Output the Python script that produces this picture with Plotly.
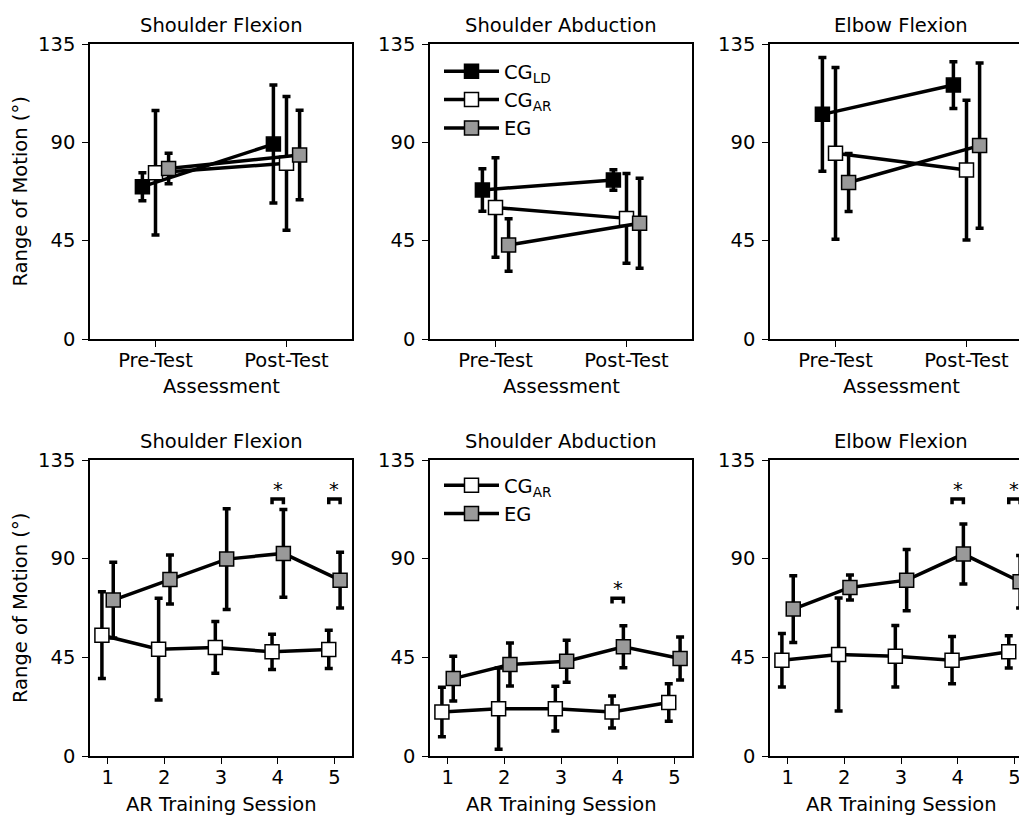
import plotly.graph_objects as go

# ---------------- data ----------------
assess_labels = ["Pre-Test", "Post-Test"]
assess_pos = [0, 1]

# Top row (Pre-Test, Post-Test): mean and SD
sf_ld_mean = [69.7, 89.2]
sf_ld_sd = [6.4, 27.0]
sf_ar_mean = [76.1, 80.4]
sf_ar_sd = [28.5, 30.6]
sf_eg_mean = [78.0, 84.2]
sf_eg_sd = [7.0, 20.5]

sa_ld_mean = [68.2, 72.8]
sa_ld_sd = [9.7, 4.7]
sa_ar_mean = [60.2, 55.2]
sa_ar_sd = [22.8, 20.5]
sa_eg_mean = [43.0, 53.0]
sa_eg_sd = [12.0, 20.6]

ef_ld_mean = [102.8, 116.2]
ef_ld_sd = [26.0, 10.7]
ef_ar_mean = [85.0, 77.3]
ef_ar_sd = [39.3, 32.0]
ef_eg_mean = [71.6, 88.5]
ef_eg_sd = [13.3, 37.8]

# Bottom row: AR training sessions
sessions = [1, 2, 3, 4, 5]
tsf_ar_mean = [55.1, 48.7, 49.5, 47.5, 48.6]
tsf_ar_sd = [19.8, 23.2, 11.8, 8.0, 8.7]
tsf_eg_mean = [71.1, 80.5, 89.8, 92.4, 80.2]
tsf_eg_sd = [17.3, 11.2, 23.0, 20.0, 12.7]

tsa_ar_mean = [20.1, 21.6, 21.6, 20.1, 24.4]
tsa_ar_sd = [11.3, 18.5, 10.2, 7.3, 8.6]
tsa_eg_mean = [35.3, 41.7, 43.2, 49.8, 44.5]
tsa_eg_sd = [10.2, 9.8, 9.6, 9.6, 9.8]

tef_ar_mean = [43.7, 46.3, 45.5, 43.7, 47.5]
tef_ar_sd = [12.2, 25.8, 14.0, 10.8, 7.4]
tef_eg_mean = [67.0, 76.9, 80.2, 92.1, 79.5]
tef_eg_sd = [15.2, 5.7, 14.0, 13.7, 12.0]

# significance markers (session, bracket height in degrees)
sf_sig_sessions = [4, 5]
sf_sig_height = 117.2
sa_sig_sessions = [4]
sa_sig_height = 71.9
ef_sig_sessions = [4, 5]
ef_sig_height = 117.2

panel_titles = ["Shoulder Flexion", "Shoulder Abduction", "Elbow Flexion"]
row_xtitles = ["Assessment", "AR Training Session"]
y_title = "Range of Motion (°)"
y_ticks = [0, 45, 90, 135]

# ---------------- styling ----------------
W, H = 1019, 815
FONT = "DejaVu Sans"
FS = 19.5
GRAY = "#999999"
group_style = {
    "LD": dict(name="CG<sub>LD</sub>", fill="black", offset=-0.1),
    "AR": dict(name="CG<sub>AR</sub>", fill="white", offset=0.0),
    "EG": dict(name="EG", fill=GRAY, offset=0.1),
}
TXT = dict(family=FONT, size=FS, color="black")

fig = go.Figure()

# axis pixel geometry (full axes widths; right column is cut by page edge)
col_left = [90, 430, 770]
ax_w = 262
top_rows = (44, 339)
bot_rows = (460, 756)


def add_series(xvals, mean, sd, key, axn, offset, legend=None, showlegend=False):
    st = group_style[key]
    fig.add_trace(go.Scatter(
        x=[v + offset for v in xvals], y=mean,
        mode="lines+markers",
        name=st["name"],
        line=dict(color="black", width=3.5),
        marker=dict(symbol="square", size=14, color=st["fill"],
                    line=dict(color="black", width=1.5)),
        error_y=dict(type="data", array=sd, visible=True, color="black",
                     thickness=3.5, width=4),
        xaxis=f"x{axn}", yaxis=f"y{axn}",
        showlegend=showlegend,
        legend=legend if legend else "legend",
        cliponaxis=True,
    ))


top_data = [
    [("LD", sf_ld_mean, sf_ld_sd), ("AR", sf_ar_mean, sf_ar_sd), ("EG", sf_eg_mean, sf_eg_sd)],
    [("LD", sa_ld_mean, sa_ld_sd), ("AR", sa_ar_mean, sa_ar_sd), ("EG", sa_eg_mean, sa_eg_sd)],
    [("LD", ef_ld_mean, ef_ld_sd), ("AR", ef_ar_mean, ef_ar_sd), ("EG", ef_eg_mean, ef_eg_sd)],
]
for c, series in enumerate(top_data):
    for key, m, s in series:
        add_series(assess_pos, m, s, key, c + 1, group_style[key]["offset"],
                   legend="legend", showlegend=(c == 1))

bot_data = [
    [("AR", tsf_ar_mean, tsf_ar_sd), ("EG", tsf_eg_mean, tsf_eg_sd)],
    [("AR", tsa_ar_mean, tsa_ar_sd), ("EG", tsa_eg_mean, tsa_eg_sd)],
    [("AR", tef_ar_mean, tef_ar_sd), ("EG", tef_eg_mean, tef_eg_sd)],
]
bot_offsets = {"AR": -0.1, "EG": 0.1}
for c, series in enumerate(bot_data):
    for key, m, s in series:
        add_series(sessions, m, s, key, c + 4, bot_offsets[key],
                   legend="legend2", showlegend=(c == 1))

# significance brackets and asterisks
sig_info = [(sf_sig_sessions, sf_sig_height), (sa_sig_sessions, sa_sig_height),
            (ef_sig_sessions, ef_sig_height)]
annotations = []
for c, (sess, h) in enumerate(sig_info):
    axn = c + 4
    for s in sess:
        fig.add_trace(go.Scatter(
            x=[s - 0.1, s - 0.1, s + 0.1, s + 0.1],
            y=[h - 2.4, h, h, h - 2.4],
            mode="lines", line=dict(color="black", width=3.5),
            xaxis=f"x{axn}", yaxis=f"y{axn}", showlegend=False,
            hoverinfo="skip",
        ))
        annotations.append(dict(
            x=s, y=h, xref=f"x{axn}", yref=f"y{axn}", text="*",
            showarrow=False, yanchor="bottom", yshift=-4, font=TXT,
        ))

# panel titles, x-axis titles and y-axis titles
for r, (ytop, ybot) in enumerate([top_rows, bot_rows]):
    for c in range(3):
        cx = (col_left[c] + ax_w / 2) / W
        annotations.append(dict(
            x=cx, y=1 - (ytop - 19) / H, xref="paper", yref="paper",
            text=panel_titles[c], showarrow=False,
            xanchor="center", yanchor="middle", font=TXT,
        ))
        annotations.append(dict(
            x=cx, y=1 - (ybot + 48) / H, xref="paper", yref="paper",
            text=row_xtitles[r], showarrow=False,
            xanchor="center", yanchor="middle", font=TXT,
        ))
    annotations.append(dict(
        x=20 / W, y=1 - ((ytop + ybot) / 2) / H, xref="paper", yref="paper",
        text=y_title, textangle=-90, showarrow=False,
        xanchor="center", yanchor="middle", font=TXT,
    ))

layout = dict(
    width=W, height=H,
    margin=dict(l=0, r=0, t=0, b=0),
    paper_bgcolor="white", plot_bgcolor="white",
    font=TXT,
    annotations=annotations,
    showlegend=True,
)

full_top_range = [-0.5, 1.5]
full_bot_range = [0.69, 5.31]

for r, (ytop, ybot) in enumerate([top_rows, bot_rows]):
    for c in range(3):
        axn = r * 3 + c + 1
        x0 = col_left[c]
        x1 = min(x0 + ax_w, W)
        frac = (x1 - x0) / ax_w
        fr = full_top_range if r == 0 else full_bot_range
        rng = [fr[0], fr[0] + (fr[1] - fr[0]) * frac]
        xa = dict(
            domain=[x0 / W, x1 / W], range=rng,
            anchor=f"y{axn}", automargin=False,
            showline=True, linecolor="black", linewidth=1.5,
            mirror=True, ticks="outside", ticklen=6, tickwidth=1.3,
            tickcolor="black", showgrid=False, zeroline=False,
            tickfont=TXT,
            ticklabelstandoff=-3, ticklabeloverflow="allow",
        )
        if r == 0:
            xa.update(tickmode="array", tickvals=assess_pos, ticktext=assess_labels)
        else:
            xa.update(tickmode="array", tickvals=sessions,
                      ticktext=[str(s) for s in sessions])
        ya = dict(
            domain=[1 - ybot / H, 1 - ytop / H], range=[0, 135],
            anchor=f"x{axn}", automargin=False,
            showline=True, linecolor="black", linewidth=1.5,
            mirror=(c < 2), ticks="outside", ticklen=6, tickwidth=1.3,
            tickcolor="black", showgrid=False, zeroline=False,
            tickmode="array", tickvals=y_ticks,
            tickfont=TXT,
            ticklabelstandoff=3, ticklabeloverflow="allow",
        )
        layout["xaxis" if axn == 1 else f"xaxis{axn}"] = xa
        layout["yaxis" if axn == 1 else f"yaxis{axn}"] = ya

layout["legend"] = dict(
    x=439 / W, y=1 - 52 / H, xanchor="left", yanchor="top",
    bgcolor="rgba(0,0,0,0)", borderwidth=0, font=TXT,
    tracegroupgap=0, itemwidth=55,
)
layout["legend2"] = dict(
    x=439 / W, y=1 - 466 / H, xanchor="left", yanchor="top",
    bgcolor="rgba(0,0,0,0)", borderwidth=0, font=TXT,
    tracegroupgap=0, itemwidth=55,
)

fig.update_layout(**layout)
fig.write_html("out.html")
